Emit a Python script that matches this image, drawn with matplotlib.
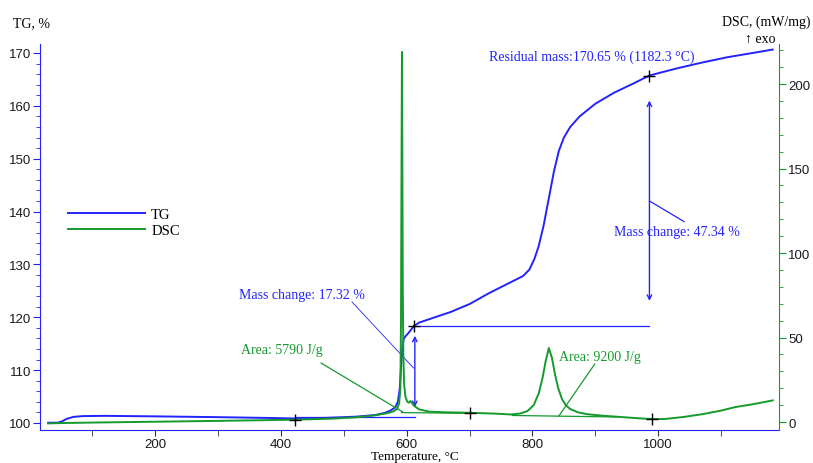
import matplotlib
matplotlib.use("Agg")
import matplotlib.pyplot as plt
import numpy as np

# --- data ---
tg_temp = [30, 45, 52, 60, 70, 85, 120, 200, 300, 380, 423, 470, 520, 550, 565, 575,
           582, 586, 589, 591, 593, 595, 598, 602, 606, 612, 620, 640, 670, 700, 730,
           760, 785, 795, 803, 810, 818, 826, 834, 842, 850, 860, 875, 900, 930, 960,
           986, 1030, 1070, 1110, 1150, 1182]
tg_mass = [100.05, 100.05, 100.3, 100.8, 101.15, 101.3, 101.35, 101.25, 101.1, 100.95,
           100.85, 100.95, 101.2, 101.5, 101.9, 102.4, 103.0, 104.0, 106.5, 110.5,
           114.0, 115.8, 116.4, 116.9, 117.5, 118.4, 119.0, 119.8, 121.0, 122.5, 124.5,
           126.3, 127.8, 129.0, 131.0, 133.5, 137.5, 142.5, 147.5, 151.5, 154.0, 156.0,
           158.0, 160.4, 162.5, 164.2, 165.74, 167.1, 168.2, 169.2, 170.0, 170.65]

dsc_temp = [30, 50, 100, 200, 300, 423, 480, 520, 550, 570, 580, 585, 588, 590, 591,
            591.8, 592.5, 593.1, 593.8, 594.7, 596, 598, 601, 604, 606, 608, 612, 620,
            635, 660, 700, 740, 765, 780, 792, 802, 810, 816, 821, 826, 831, 836, 841,
            847, 853, 860, 872, 886, 910, 940, 970, 990, 1010, 1040, 1071, 1100, 1123,
            1150, 1182]
dsc_val = [-0.8, -0.6, -0.3, 0.2, 0.7, 1.4, 2.0, 2.8, 4.0, 5.3, 6.5, 8.0, 11, 20, 60,
           150, 219, 160, 80, 40, 22, 15, 12, 11.5, 12.5, 11.5, 9.5, 7.5, 6.2, 5.8, 5.5,
           5.0, 4.5, 5.0, 6.5, 10, 17, 26, 36, 43.8, 38, 28, 20, 13.6, 10, 7.7, 5.8, 4.7,
           3.8, 3.0, 2.2, 1.8, 1.8, 3.0, 4.7, 6.8, 8.9, 10.5, 12.8]

# evaluation marks
tg_cross_temp = [612, 986]
tg_cross_mass = [118.4, 165.74]
dsc_cross_temp = [423, 701, 990]
dsc_cross_val = [1.4, 5.5, 1.8]

step1_base, step1_top, step1_temp = 101.08, 118.4, 612
step2_top, step2_temp = 165.74, 986
dsc_base1_temp, dsc_base1_val = [592, 690], [5.6, 5.2]
dsc_base2_temp, dsc_base2_val = [768, 935], [3.9, 3.0]

BLUE = "#2323ff"
GREEN = "#159a2c"
SERIF = ["Liberation Serif", "DejaVu Serif"]
SANS = ["Liberation Sans", "DejaVu Sans"]

fig = plt.figure(figsize=(8.13, 4.64), dpi=100)
ax = fig.add_axes([40/813, 1-431/464, 739/813, 386/464])
ax2 = ax.twinx()

l_tg, = ax.plot(tg_temp, tg_mass, color=BLUE, lw=1.4, label="TG", zorder=3)
l_dsc, = ax2.plot(dsc_temp, dsc_val, color=GREEN, lw=1.4, label="DSC", zorder=3)

# --- TG evaluation ---
ax.plot([423, step1_temp + 2], [step1_base, step1_base], color=BLUE, lw=0.9)
ax.plot([step1_temp, step2_temp], [step1_top, step1_top], color=BLUE, lw=0.9)
ax.plot(tg_cross_temp, tg_cross_mass, "+", color="black", ms=9, mew=1, zorder=5)
ax.annotate("", xy=(step1_temp + 1, 116.5), xytext=(step1_temp + 1, 103.0),
            arrowprops=dict(arrowstyle="<->", color=BLUE, lw=1.0,
                            mutation_scale=8, shrinkA=0, shrinkB=0))
ax.annotate("", xy=(step2_temp, 161.0), xytext=(step2_temp, 123.1),
            arrowprops=dict(arrowstyle="<->", color=BLUE, lw=1.0,
                            mutation_scale=8, shrinkA=0, shrinkB=0))
ax.plot([513, 611], [122.9, 110.4], color=BLUE, lw=0.6)
ax.plot([986, 1041], [142.0, 138.1], color=BLUE, lw=0.9)
ax.text(333, 124.4, "Mass change: 17.32 %", color=BLUE, family=SERIF,
        fontsize=10, ha="left", va="center")
ax.text(930, 136.2, "Mass change: 47.34 %", color=BLUE, family=SERIF,
        fontsize=10, ha="left", va="center")
ax.text(1057, 169.3, "Residual mass:170.65 % (1182.3 °C)", color=BLUE,
        family=SERIF, fontsize=10, ha="right", va="center")

# --- DSC evaluation ---
ax2.plot(dsc_base1_temp, dsc_base1_val, color=GREEN, lw=0.9)
ax2.plot(dsc_base2_temp, dsc_base2_val, color=GREEN, lw=0.9)
ax2.plot(dsc_cross_temp, dsc_cross_val, "+", color="black", ms=9, mew=1, zorder=5)
ax2.plot([464, 594], [34.9, 5.9], color=GREEN, lw=0.9)
ax2.plot([899, 842], [34.3, 3.6], color=GREEN, lw=0.9)
ax2.text(336, 43.2, "Area: 5790 J/g", color=GREEN, family=SERIF,
         fontsize=10, ha="left", va="center")
ax2.text(842, 39.0, "Area: 9200 J/g", color=GREEN, family=SERIF,
         fontsize=10, ha="left", va="center")

# --- axes formatting ---
ax.set_xlim(17, 1192)
ax.set_ylim(98.67, 171.7)
ax2.set_ylim(-4.7, 223.7)

ax.set_xticks([200, 400, 600, 800, 1000])
ax.set_xticks(np.arange(100, 1200, 200), minor=True)
ax.set_yticks(np.arange(100, 171, 10))
ax.set_yticks(np.arange(100, 171, 2), minor=True)
ax2.set_yticks(np.arange(0, 201, 50))
ax2.set_yticks(np.arange(0, 221, 10), minor=True)

for a in (ax, ax2):
    a.spines["top"].set_visible(False)
ax.spines["left"].set_color(BLUE)
ax.spines["bottom"].set_color(BLUE)
ax.spines["right"].set_visible(False)
ax2.spines["left"].set_visible(False)
ax2.spines["bottom"].set_visible(False)
ax2.spines["right"].set_color(GREEN)

ax.tick_params(axis="x", which="both", direction="out", length=4, color="#333333",
               labelsize=9.5, pad=1.5, labelcolor="#1a1a1a")
ax.tick_params(axis="y", which="major", direction="out", length=5, color=BLUE,
               labelsize=9.5, pad=1.5, labelcolor="#1a1a1a")
ax.tick_params(axis="y", which="minor", direction="out", length=3, color=BLUE)
ax2.tick_params(axis="y", which="major", direction="out", length=5, color=GREEN,
                labelsize=9.5, pad=1.5, labelcolor="#1a1a1a")
ax2.tick_params(axis="y", which="minor", direction="out", length=3, color=GREEN)
for lab in ax.get_xticklabels() + ax.get_yticklabels() + ax2.get_yticklabels():
    lab.set_family(SANS)

fig.text(13/813, 1-24/464, "TG, %", family=SERIF, fontsize=10, ha="left", va="center")
fig.text(810/813, 1-22/464, "DSC, (mW/mg)", family=SERIF, fontsize=10,
         ha="right", va="center")
fig.text(775/813, 1-39/464, "↑ exo", family=SERIF, fontsize=10,
         ha="right", va="center")
fig.text(415/813, 1-457/464, "Temperature, °C", family=SERIF, fontsize=9.5,
         ha="center", va="center")

fig.legend([l_tg, l_dsc], ["TG", "DSC"], loc="upper left",
           bbox_to_anchor=(68/813, 1-209/464), frameon=False, borderpad=0,
           borderaxespad=0, handlelength=5.3, handletextpad=0.4, labelspacing=0.15,
           prop={"family": SERIF, "size": 10.5})

fig.savefig("out.png", dpi=100)
